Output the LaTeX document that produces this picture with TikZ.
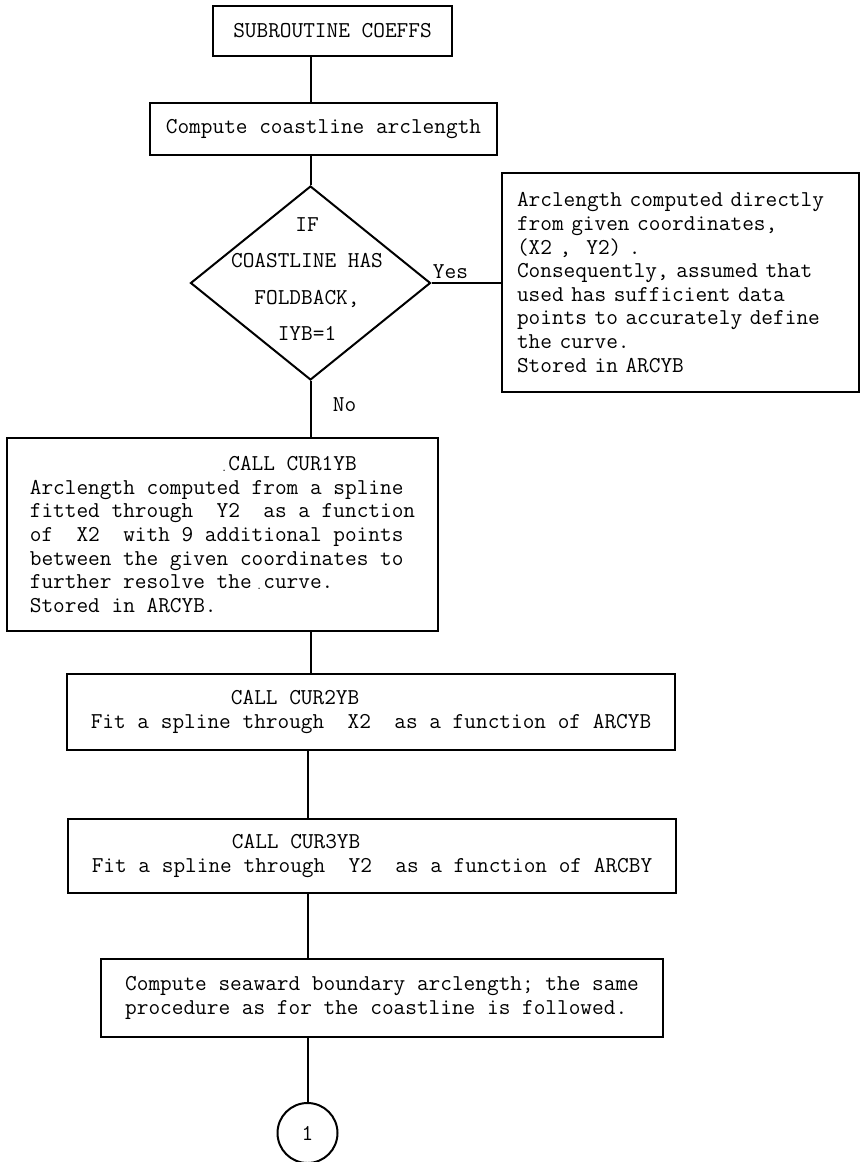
\documentclass[tikz,border=0pt]{standalone}
\usepackage{fontspec}
\usetikzlibrary{shapes.geometric}
\newcommand\twfont{\ttfamily\fontsize{22.67pt}{23.6pt}\selectfont\frenchspacing}
\newcommand\speck{\llap{\raisebox{-1pt}{\fontsize{12pt}{12pt}\selectfont.}\hspace{1pt}}}
\begin{document}
\begin{tikzpicture}[x=1pt,y=-1pt,
  box/.style={draw, line width=2pt, inner sep=0pt, align=left, font=\twfont},
  dia/.style={draw, diamond, line width=2pt, inner sep=0pt,
    minimum width=240pt, minimum height=194pt},
  dtext/.style={inner sep=0pt, align=center,
    font={\ttfamily\fontsize{22.67pt}{36.3pt}\selectfont}},
  lbl/.style={inner sep=0pt, font=\twfont},
  conn/.style={line width=2pt},
  conncircle/.style={draw, circle, line width=2pt, minimum size=60pt, inner sep=0pt,
    font=\twfont}
]
\useasboundingbox (0,0) rectangle (865,1162);
\fill[white] (0,0) rectangle (865,1162);

\node[box, minimum width=239pt, minimum height=50pt] (b1) at (332.5,31) {SUBROUTINE COEFFS};
\node[box, minimum width=347pt, minimum height=52pt] (b2) at (323.5,129) {Compute coastline arclength};

\node[dia] (d) at (310.5,283) {};
\node[dtext] (dt) at (307,279) {IF\\COASTLINE HAS\\FOLDBACK,\\IYB=1};

\node[box, minimum width=357pt, minimum height=219pt, text width=327pt] (b3) at (680.5,282.5)
 {Arclength computed directly\\
  from given coordinates,\\
  (X2 ,\ \ Y2) .\\
  Consequently, assumed that\\
  used has sufficient data\\
  points to accurately define\\
  the curve.\\
  Stored in ARCYB};

\node[lbl] (yes) at (450.5,272) {Yes};
\node[lbl] (no) at (344.5,405) {No};

\node[box, minimum width=431pt, minimum height=193pt] (b4) at (222.5,534.5)
 {\hphantom{XXXXXXXXXXXXXXXXX}\speck CALL CUR1YB\\
  Arclength computed from a spline\\
  fitted through\ \ Y2\ \ as a function\\
  of\ \ X2\ \ with 9 additional points\\
  between the given coordinates to\\
  further resolve the \speck curve.\\
  Stored in ARCYB.};

\node[box, minimum width=608pt, minimum height=76pt] (b5) at (371,712)
 {\hphantom{XXXXXXXXXXXX}CALL CUR2YB\\
  Fit a spline through\ \ X2\ \ as a function of ARCYB};

\node[box, minimum width=608pt, minimum height=74pt] (b6) at (372,856)
 {\hphantom{XXXXXXXXXXXX}CALL CUR3YB\\
  Fit a spline through\ \ Y2\ \ as a function of ARCBY};

\node[box, minimum width=562pt, minimum height=78pt] (b7) at (382,998)
 {Compute seaward boundary arclength; the same\\
  procedure as for the coastline is followed.};

\node[conncircle] (c) at (307.5,1133) {1};

\draw[conn] (b1.south -| d.north) -- (b2.north -| d.north);
\draw[conn] (b2.south -| d.north) -- (d.north);
\draw[conn] (d.east) -- (b3.west |- d.east);
\draw[conn] (d.south) -- (b4.north -| d.south);
\draw[conn] (b4.south -| d.south) -- (b5.north -| d.south);
\draw[conn] (b5.south -| c.north) -- (b6.north -| c.north);
\draw[conn] (b6.south -| c.north) -- (b7.north -| c.north);
\draw[conn] (b7.south -| c.north) -- (c.north);
\end{tikzpicture}
\end{document}
